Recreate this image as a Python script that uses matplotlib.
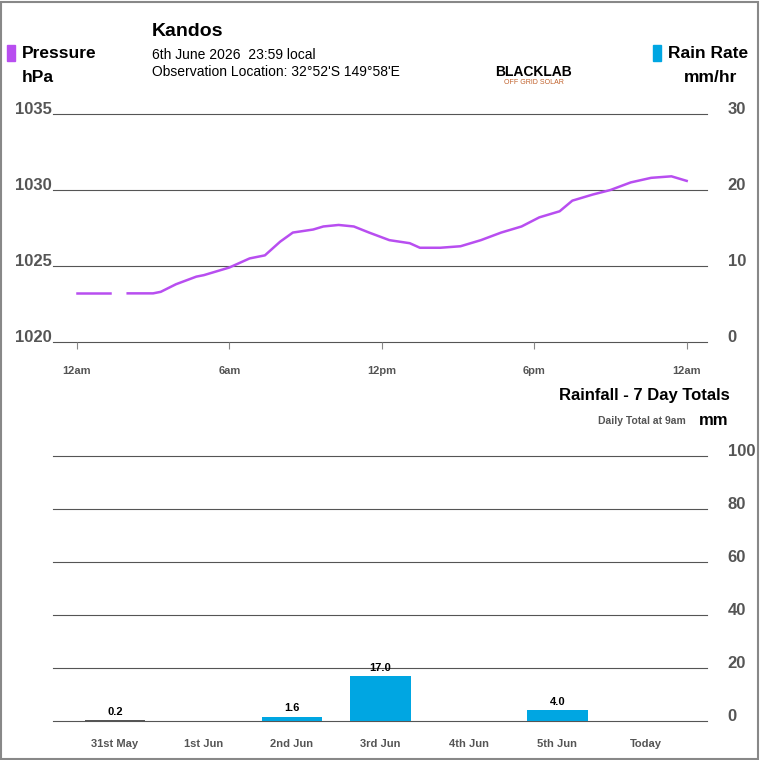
import matplotlib
matplotlib.use("Agg")
import matplotlib.pyplot as plt
import matplotlib.patches as patches
import matplotlib.transforms as mtransforms

plt.rcParams['font.family'] = ['Liberation Sans', 'DejaVu Sans']

# pressure readings (hour of day, hPa)
hours = [0, 1, 1.3, 1.7, 2, 3, 3.3, 3.9, 4.7, 5, 6, 6.8, 7.4, 8, 8.5, 9.3, 9.7, 10.3, 10.9, 11.5, 12.3, 13.1, 13.5, 14.3, 15.1, 15.9, 16.7, 17.5, 18.2, 19.0, 19.5, 20.3, 21.0, 21.8, 22.6, 23.4, 24.0]
pressure = [1023.2, 1023.2, 1023.2, None, 1023.2, 1023.2, 1023.3, 1023.8, 1024.3, 1024.4, 1024.9, 1025.5, 1025.7, 1026.6, 1027.2, 1027.4, 1027.6, 1027.7, 1027.6, 1027.2, 1026.7, 1026.5, 1026.2, 1026.2, 1026.3, 1026.7, 1027.2, 1027.6, 1028.2, 1028.6, 1029.3, 1029.7, 1030.0, 1030.5, 1030.8, 1030.9, 1030.6]
hour_ticks = [0, 6, 12, 18, 24]
hour_labels = ["12am", "6am", "12pm", "6pm", "12am"]

days = ["31st May", "1st Jun", "2nd Jun", "3rd Jun", "4th Jun", "5th Jun", "Today"]
rain = [0.2, 0.0, 1.6, 17.0, 0.0, 4.0, 0.0]

purple = "#b84ef0"
blue = "#00a6e2"
grid_c = "#555555"
tick_c = "#555555"

fig = plt.figure(figsize=(7.6, 7.6), dpi=100)
fig.patches.append(patches.Rectangle((0.001, 0.001), 0.997, 0.997, transform=fig.transFigure,
                                     fill=False, edgecolor="#888888", linewidth=1.5))
lift = mtransforms.ScaledTranslation(0, 6 / 100, fig.dpi_scale_trans)

W = H = 760.0
def ax_rect(x0, y0, x1, y1):
    return [x0 / W, 1 - y1 / H, (x1 - x0) / W, (y1 - y0) / H]

def raise_labels(axis):
    for lb in axis.get_ticklabels():
        lb.set_transform(lb.get_transform() + lift)
        lb.set_fontweight("bold")

# pressure chart
ax = fig.add_axes(ax_rect(53, 114, 707, 342))
ax.plot(hours[:3], pressure[:3], color=purple, lw=1.8)
ax.plot(hours[4:], pressure[4:], color=purple, lw=1.8)
ax.set_xlim(-0.94, 24.8)
ax.set_ylim(1020, 1035)
ax.set_yticks([1020, 1025, 1030, 1035])
for v in [1020, 1025, 1030, 1035]:
    ax.axhline(v, color=grid_c, lw=0.8, clip_on=False, zorder=0)
ax.set_xticks(hour_ticks)
ax.set_xticklabels(hour_labels, fontsize=8, fontweight="bold", color=tick_c)
ax.tick_params(axis="x", length=5, color="#888888", pad=12)
ax.tick_params(axis="y", length=0, labelsize=12, labelcolor=tick_c, pad=1)
raise_labels(ax.yaxis)
for s in ax.spines.values():
    s.set_visible(False)
ax2 = ax.twinx()
ax2.set_ylim(0, 30)
ax2.set_yticks([0, 10, 20, 30])
ax2.tick_params(length=0, labelsize=12, labelcolor=tick_c, pad=15)
raise_labels(ax2.yaxis)
for s in ax2.spines.values():
    s.set_visible(False)

# rainfall chart
bx = fig.add_axes(ax_rect(53, 456, 707, 721))
cols = [blue] * len(rain)
cols[0] = "#555555"
bx.bar(range(len(days)), rain, width=0.68, color=cols, zorder=2)
for i, v in enumerate(rain):
    if v > 0:
        bx.text(i, v + 1.3, f"{v:.1f}", ha="center", va="bottom", fontsize=8, fontweight="bold")
bx.set_xlim(-0.7, 6.69)
bx.set_ylim(0, 100)
for v in [0, 20, 40, 60, 80, 100]:
    bx.axhline(v, color=grid_c, lw=0.8, clip_on=False, zorder=0)
bx.set_xticks(range(len(days)))
bx.set_xticklabels(days, fontsize=8, fontweight="bold", color=tick_c)
bx.tick_params(axis="x", length=0, pad=13)
bx.yaxis.tick_right()
bx.set_yticks([0, 20, 40, 60, 80, 100])
bx.tick_params(axis="y", length=0, labelsize=12, labelcolor=tick_c, pad=15)
raise_labels(bx.yaxis)
for s in bx.spines.values():
    s.set_visible(False)

def t(x, y, s, **kw):
    fig.text(x / W, 1 - y / H, s, **kw)

# header texts
fig.patches.append(patches.Rectangle((7 / W, 1 - 61 / H), 8 / W, 16 / H, transform=fig.transFigure, color=purple))
t(22, 54, "Pressure", fontsize=12.5, fontweight="bold", va="center")
t(22, 77, "hPa", fontsize=12.5, fontweight="bold", va="center")
fig.patches.append(patches.Rectangle((653 / W, 1 - 61 / H), 8 / W, 16 / H, transform=fig.transFigure, color=blue))
t(668, 54, "Rain Rate", fontsize=12.5, fontweight="bold", va="center")
t(684, 77, "mm/hr", fontsize=12.5, fontweight="bold", va="center")
t(152, 32, "Kandos", fontsize=14, fontweight="bold", va="center")
t(152, 55, "6th June 2026  23:59 local", fontsize=10, va="center")
t(152, 72, "Observation Location: 32°52'S 149°58'E", fontsize=10, va="center")
t(534, 72, "BLACKLAB", fontsize=10, fontweight="bold", va="center", ha="center")
t(534, 83, "OFF GRID SOLAR", fontsize=5, color="#c0602a", va="center", ha="center")
t(730, 396, "Rainfall - 7 Day Totals", fontsize=12, fontweight="bold", va="center", ha="right")
t(686, 421, "Daily Total at 9am", fontsize=7.5, fontweight="bold", color="#555555", va="center", ha="right")
t(699, 420, "mm", fontsize=12, fontweight="bold", va="center")

fig.savefig("out.png", dpi=100)
